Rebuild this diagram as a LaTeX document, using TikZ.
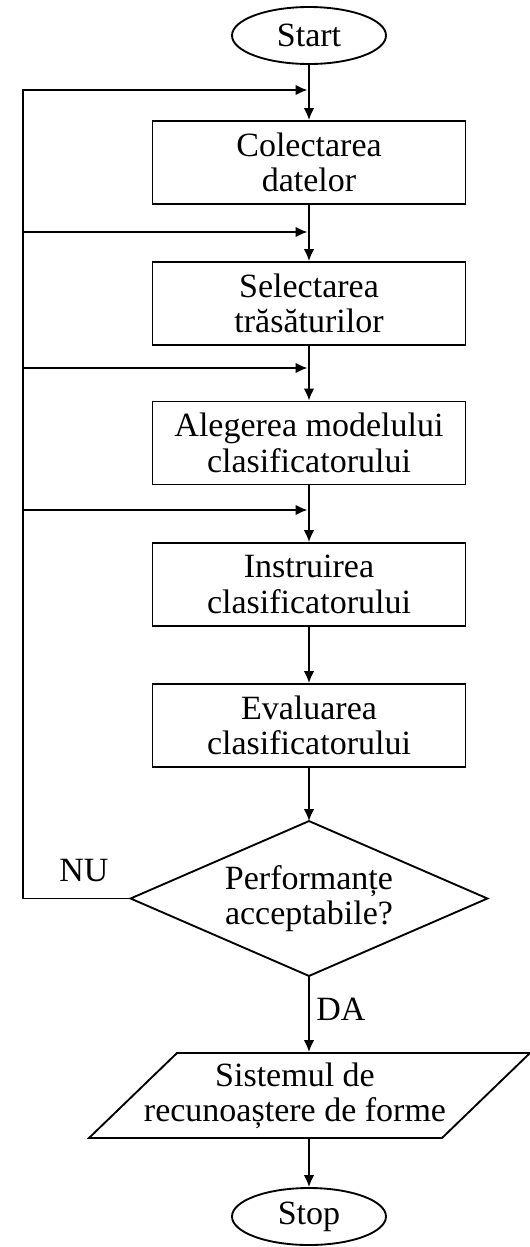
\documentclass[tikz,border=0pt]{standalone}
\usepackage{fontspec}
\setmainfont{Liberation Serif}
\usetikzlibrary{shapes.geometric,arrows.meta}
\begin{document}
\begin{tikzpicture}[x=0.75pt,y=-0.75pt,
  line width=1.4pt,
  every node/.style={font=\fontsize{25.5}{26.5}\selectfont},
  flow/.style={-{Latex[length=9pt,width=8pt]}},
  stepbox/.style={draw,rectangle,minimum width=234.75pt,minimum height=62.25pt,align=center,inner sep=0pt},
  term/.style={draw,ellipse,minimum width=115.5pt,minimum height=42.75pt,inner sep=0pt},
  decision/.style={rectangle,minimum width=266.25pt,minimum height=114.75pt,inner sep=0pt,align=center},
  io/.style={rectangle,minimum height=63.75pt,inner sep=0pt,align=center},
]
\useasboundingbox (0,0) rectangle (529,1247);

% terminals, steps and decision
\node[term] (start) at (309,35.5) {Start};
\node[stepbox] (b1) at (309,162.5) {Colectarea\\datelor};
\node[stepbox] (b2) at (309,303.5) {Selectarea\\trăsăturilor};
\node[stepbox] (b3) at (309,443) {Alegerea modelului\\clasificatorului};
\node[stepbox] (b4) at (309,584.5) {Instruirea\\clasificatorului};
\node[stepbox] (b5) at (309,725.5) {Evaluarea\\clasificatorului};
\node[decision] (dec) at (309,898.5) {Performanțe\\acceptabile?};
\node[io] (out) at (295,1095.5) {Sistemul de\\recunoaștere de forme};
\node[term] (stop) at (309,1216.5) {Stop};

% decision diamond
\draw[line join=miter] (dec.west) -- (dec.north) -- (dec.east) -- (dec.south) -- cycle;

% output parallelogram
\draw ([shift={(-206,42.5)}]out.center) -- ([shift={(-118,-42.5)}]out.center)
  -- ([shift={(235,-42.5)}]out.center) -- ([shift={(147,42.5)}]out.center) -- cycle;

% branch labels
\node (nu) at (84,871) {NU};
\node (da) at (341,1009) {DA};

% main flow
\draw[flow] (start.south) -- (b1.north);
\draw[flow] (b1.south) -- (b2.north);
\draw[flow] (b2.south) -- (b3.north);
\draw[flow] (b3.south) -- (b4.north);
\draw[flow] (b4.south) -- (b5.north);
\draw[flow] (b5.south) -- (dec.north);
\draw[flow] (dec.south) -- (dec.south |- out.north);
\draw[flow] (stop.north |- out.south) -- (stop.north);

% feedback loop back into the chain
\coordinate (L1) at (23,90);
\coordinate (L2) at (23,232);
\coordinate (L3) at (23,368);
\coordinate (L4) at (23,510);
\coordinate (J1) at (307.5,90);
\coordinate (J2) at (307.5,232);
\coordinate (J3) at (307.5,368);
\coordinate (J4) at (307.5,510);
\draw[flow] (dec.west) -| (L1) -- (J1);
\draw[flow] (L2) -- (J2);
\draw[flow] (L3) -- (J3);
\draw[flow] (L4) -- (J4);
\end{tikzpicture}
\end{document}
